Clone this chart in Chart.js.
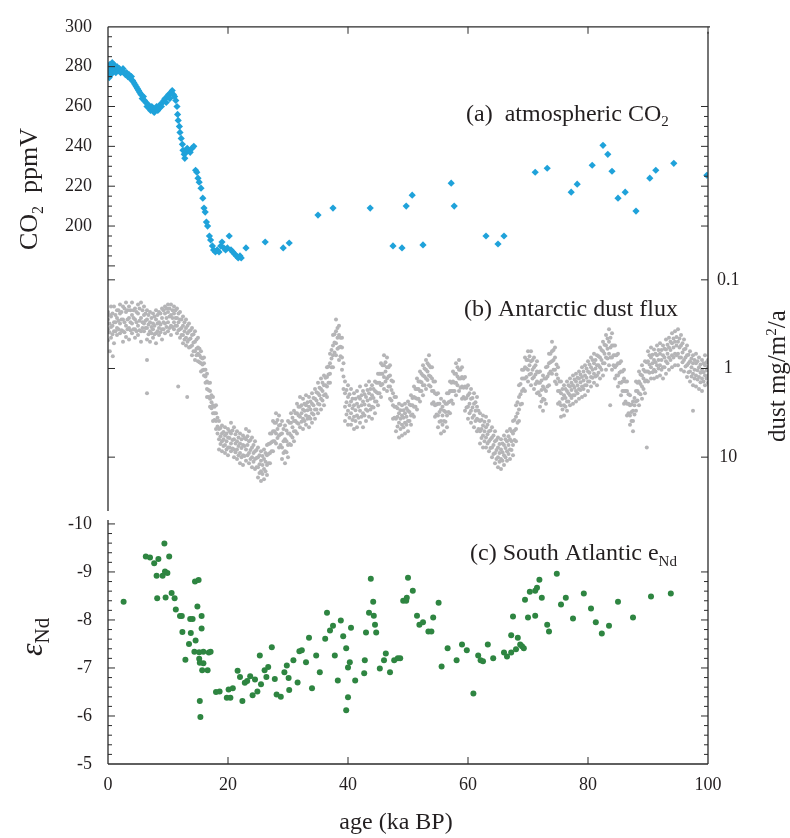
<!DOCTYPE html>
<html>
<head>
<meta charset="utf-8">
<script src="https://cdn.jsdelivr.net/npm/chart.js@4.4.0/dist/chart.umd.min.js"></script>
<style>
  html, body { margin: 0; padding: 0; background: #fff; }
  #grafico { display: block; }
</style>
</head>
<body>
<canvas id="grafico" width="790" height="838"></canvas>
<script>
// 🔵 Eixo comum: idade (ka BP)
const ageTicks = [0, 20, 40, 60, 80, 100];

// 🔵 (a) CO2 atmosférico
const co2Age = [0.0, 0.1, 0.2, 0.2, 0.3, 0.4, 0.5, 0.6, 0.7, 0.8, 0.9, 1.0, 1.2, 1.3, 1.5, 1.7, 1.9, 2.1, 2.3, 2.5,
    2.7, 2.9, 3.1, 3.3, 3.5, 3.7, 3.9, 4.1, 4.3, 4.5, 4.7, 4.9, 5.1, 5.3, 5.5, 5.7, 5.9, 6.1, 6.3, 6.5,
    6.7, 6.9, 7.1, 7.3, 7.5, 7.7, 7.9, 8.1, 8.3, 8.5, 8.7, 8.9, 9.1, 9.3, 9.5, 9.7, 9.9, 10.1, 10.3, 10.5,
    10.7, 10.9, 11.1, 11.3, 11.5, 11.6, 11.7, 11.9, 12.0, 12.2, 12.4, 12.5, 12.7, 12.8, 13.0, 13.2, 13.4, 13.7, 14.0, 14.3,
    14.6, 14.8, 15.0, 15.2, 15.5, 15.8, 16.0, 16.2, 16.4, 16.6, 16.9, 17.1, 17.4, 17.6, 17.9, 18.2, 18.5, 18.8, 19.0, 19.3,
    19.6, 19.9, 20.2, 20.5, 20.8, 21.1, 21.4, 21.7, 22.0, 22.2, 23.0, 26.2, 29.2, 30.2, 35.0, 37.5, 43.7, 47.5, 49.0, 49.7,
    50.7, 52.5, 57.2, 57.7, 63.0, 65.0, 66.0, 71.2, 73.2, 77.2, 78.2, 80.7, 82.5, 83.3, 84.0, 85.0, 86.2, 88.0, 90.3, 91.3,
    94.3, 99.8];
const co2Ppm = [277, 280, 275, 274.5, 281, 278, 276, 279, 282, 280, 278, 281, 279, 277, 280, 278, 279, 277, 278, 279,
    277, 276, 277, 275, 276, 274, 275, 273, 272, 271, 270, 269, 268, 267, 266, 264, 265, 263, 262, 260,
    261, 259, 258, 260, 259, 257, 259, 260, 258, 259, 261, 260, 262, 263, 264, 262, 265, 266, 264, 267,
    268, 266, 265, 263, 260, 256, 253, 250, 247, 244, 241, 238, 236, 234, 237, 239, 238, 237, 239, 240,
    228, 227, 224, 222, 219, 214, 209, 207, 202, 200, 195, 193, 190, 188, 187, 188, 187, 190, 192, 189,
    188, 189, 195, 188, 187, 186, 185, 184, 185, 184, 189, 192, 189, 191.5, 205.5, 209, 209, 190, 189, 210,
    215.5, 190.5, 221.5, 210, 195, 191, 195, 227, 229, 217, 221, 230.5, 240.5, 236, 227.5, 214, 217, 207.5, 224, 228,
    231.5, 225.5];
const co2Ticks = [180, 200, 220, 240, 260, 280, 300];
const co2Labels = [200, 220, 240, 260, 280, 300];

// 🔵 (b) fluxo de poeira antártica (mg/m²/a), quatro leituras por idade
const dustAge = [0, 0.5, 1, 1.5, 2, 2.5, 3, 3.5, 4, 4.5, 5, 5.5, 6, 6.5, 7, 7.5, 8, 8.5, 9, 9.5,
    10, 10.5, 11, 11.5, 12, 12.5, 13, 13.5, 14, 14.5, 15, 15.5, 16, 16.5, 17, 17.5, 18, 18.5, 19, 19.5,
    20, 20.5, 21, 21.5, 22, 22.5, 23, 23.5, 24, 24.5, 25, 25.5, 26, 26.5, 27, 27.5, 28, 28.5, 29, 29.5,
    30, 30.5, 31, 31.5, 32, 32.5, 33, 33.5, 34, 34.5, 35, 35.5, 36, 36.5, 37, 37.5, 38, 38.5, 39, 39.5,
    40, 40.5, 41, 41.5, 42, 42.5, 43, 43.5, 44, 44.5, 45, 45.5, 46, 46.5, 47, 47.5, 48, 48.5, 49, 49.5,
    50, 50.5, 51, 51.5, 52, 52.5, 53, 53.5, 54, 54.5, 55, 55.5, 56, 56.5, 57, 57.5, 58, 58.5, 59, 59.5,
    60, 60.5, 61, 61.5, 62, 62.5, 63, 63.5, 64, 64.5, 65, 65.5, 66, 66.5, 67, 67.5, 68, 68.5, 69, 69.5,
    70, 70.5, 71, 71.5, 72, 72.5, 73, 73.5, 74, 74.5, 75, 75.5, 76, 76.5, 77, 77.5, 78, 78.5, 79, 79.5,
    80, 80.5, 81, 81.5, 82, 82.5, 83, 83.5, 84, 84.5, 85, 85.5, 86, 86.5, 87, 87.5, 88, 88.5, 89, 89.5,
    90, 90.5, 91, 91.5, 92, 92.5, 93, 93.5, 94, 94.5, 95, 95.5, 96, 96.5, 97, 97.5, 98, 98.5, 99, 99.5,
    100];
const dustFlux = [
    [0.23, 0.28, 0.36, 0.48], [0.2, 0.26, 0.34, 0.45], [0.2, 0.3, 0.38, 0.52], [0.22, 0.27, 0.35, 0.42], [0.19, 0.24, 0.31, 0.4],
    [0.2, 0.28, 0.38, 0.5], [0.18, 0.23, 0.33, 0.44], [0.2, 0.27, 0.35, 0.47], [0.18, 0.25, 0.31, 0.4], [0.21, 0.28, 0.36, 0.45],
    [0.19, 0.24, 0.33, 0.42], [0.18, 0.27, 0.38, 0.5], [0.2, 0.25, 0.31, 0.38], [0.22, 0.28, 0.35, 0.47], [0.23, 0.3, 0.38, 0.5],
    [0.24, 0.31, 0.36, 0.45], [0.22, 0.28, 0.4, 0.52], [0.23, 0.3, 0.35, 0.42], [0.21, 0.27, 0.36, 0.47], [0.2, 0.24, 0.31, 0.4],
    [0.19, 0.23, 0.3, 0.38], [0.19, 0.25, 0.33, 0.42], [0.2, 0.24, 0.3, 0.36], [0.21, 0.27, 0.33, 0.4], [0.23, 0.28, 0.36, 0.45],
    [0.26, 0.33, 0.42, 0.52], [0.28, 0.35, 0.45, 0.55], [0.31, 0.38, 0.47, 0.58], [0.35, 0.42, 0.55, 0.71], [0.38, 0.5, 0.64, 0.8],
    [0.45, 0.58, 0.68, 0.83], [0.64, 0.75, 0.87, 1.08], [0.75, 0.87, 1.03, 1.2], [1.15, 1.4, 1.7, 2.1], [1.45, 1.8, 2.2, 2.7],
    [2.1, 2.6, 3.2, 3.9], [2.6, 3.2, 3.9, 4.8], [3.9, 4.8, 6.3, 8.2], [4.4, 5.4, 6.6, 8.6], [4.6, 5.7, 7.3, 9],
    [4.8, 6, 7.8, 9.5], [4.1, 5.4, 7, 8.6], [4.6, 6.3, 8.2, 10], [5.1, 6.6, 8.2, 10.5], [5.4, 7, 9, 11.7],
    [5.7, 7.3, 9.5, 12.3], [4.8, 6.3, 8.2, 11], [5.1, 6.6, 9, 11.7], [6, 7.8, 10, 13], [6.6, 8.6, 10.5, 13.6],
    [7.8, 10, 13, 17], [8.6, 11, 14.4, 18.6], [8.2, 10.5, 13.6, 17.8], [7.3, 9.5, 12.3, 15.9], [5.4, 7, 9, 11.7],
    [3.9, 5.1, 6.6, 8.6], [3.2, 4.1, 5.4, 7], [3.4, 4.4, 5.7, 7.8], [3.9, 5.4, 7.8, 10.5], [4.4, 6.3, 8.6, 11.7],
    [3.9, 5.4, 7.3, 10], [3.2, 4.1, 5.7, 7.3], [3, 3.9, 5.1, 6.6], [2.5, 3.2, 4.1, 5.4], [2.1, 2.7, 3.5, 4.6],
    [2.2, 2.9, 3.7, 4.8], [2, 2.6, 3.4, 4.3], [2.1, 2.7, 3.5, 4.6], [1.9, 2.5, 3.2, 4.1], [1.7, 2.2, 2.9, 3.7],
    [1.45, 1.9, 2.5, 3.2], [1.3, 1.7, 2.2, 2.9], [1.2, 1.55, 2, 2.6], [0.97, 1.25, 1.6, 2.1], [0.68, 0.87, 1.15, 1.45],
    [0.42, 0.55, 0.71, 0.97], [0.28, 0.38, 0.52, 0.71], [0.33, 0.42, 0.58, 0.8], [0.45, 0.58, 0.75, 1.03], [1.4, 1.9, 2.7, 3.9],
    [1.55, 2.1, 3, 4.3], [1.7, 2.35, 3.2, 4.3], [1.9, 2.6, 3.5, 4.8], [1.8, 2.5, 3.4, 4.6], [1.6, 2.2, 3, 4.1],
    [1.8, 2.35, 3.2, 4.6], [1.55, 2.1, 2.9, 3.9], [1.4, 1.9, 2.6, 3.5], [1.55, 2, 2.7, 3.7], [1.4, 1.8, 2.35, 3.2],
    [1.15, 1.45, 1.9, 2.6], [0.87, 1.15, 1.55, 2.1], [0.71, 0.92, 1.25, 1.7], [0.75, 0.97, 1.3, 1.8], [0.92, 1.2, 1.6, 2.2],
    [1.4, 1.9, 2.6, 3.7], [2.1, 2.7, 3.7, 5.1], [2.5, 3.2, 4.1, 6], [2.6, 3.4, 4.3, 5.7], [2.5, 3.2, 4.1, 5.4],
    [2.35, 3, 3.9, 5.1], [2, 2.6, 3.4, 4.3], [1.6, 2.1, 2.7, 3.5], [1.3, 1.7, 2.2, 2.9], [1.08, 1.4, 1.8, 2.35],
    [0.92, 1.2, 1.55, 2], [0.8, 1.03, 1.3, 1.7], [0.71, 0.92, 1.2, 1.55], [0.97, 1.3, 1.8, 2.5], [1.4, 1.9, 2.6, 3.5],
    [1.9, 2.5, 3.4, 4.6], [2.2, 2.9, 3.9, 5.4], [2.35, 3, 3.9, 5.1], [1.9, 2.5, 3.4, 4.6], [1.4, 1.8, 2.35, 3.2],
    [1.08, 1.4, 1.8, 2.5], [0.87, 1.15, 1.45, 2], [0.8, 1.03, 1.3, 1.8], [0.97, 1.25, 1.6, 2.2], [1.25, 1.6, 2.2, 3],
    [1.55, 2, 2.7, 3.7], [1.7, 2.2, 3, 4.1], [1.9, 2.5, 3.4, 4.6], [2.1, 2.7, 3.7, 5.1], [3.2, 3.9, 5.1, 7],
    [3.4, 4.4, 5.7, 7.8], [3.5, 4.6, 6, 7.8], [3.9, 5.1, 6.6, 8.6], [4.6, 6, 7.8, 10], [5.1, 6.6, 9, 11.7],
    [6, 7.8, 10, 13], [6.3, 8.2, 10.5, 13.6], [5.7, 7.3, 9.5, 12.3], [5.1, 6.6, 8.6, 11], [4.8, 6.3, 8.2, 10.5],
    [3.9, 5.4, 7.3, 9.5], [2.6, 3.5, 4.8, 6.6], [1.55, 2.1, 2.9, 3.9], [1.03, 1.3, 1.8, 2.5], [0.75, 0.97, 1.3, 1.8],
    [0.64, 0.8, 1.03, 1.4], [0.64, 0.83, 1.15, 1.55], [0.75, 0.97, 1.25, 1.7], [0.83, 1.08, 1.4, 1.9], [1.08, 1.45, 2, 2.7],
    [1.2, 1.6, 2.2, 3], [0.97, 1.3, 1.8, 2.5], [0.68, 0.87, 1.15, 1.55], [0.5, 0.64, 0.83, 1.15], [0.58, 0.75, 1.03, 1.4],
    [0.97, 1.3, 1.8, 2.5], [1.4, 1.9, 2.6, 3.5], [1.55, 2, 2.6, 3.4], [1.4, 1.8, 2.35, 3], [1.3, 1.6, 2, 2.6],
    [1.2, 1.55, 2, 2.5], [1.15, 1.4, 1.8, 2.35], [1.08, 1.3, 1.7, 2.2], [0.97, 1.25, 1.6, 2.1], [0.92, 1.2, 1.55, 2],
    [0.83, 1.08, 1.4, 1.8], [0.75, 0.97, 1.25, 1.6], [0.68, 0.87, 1.15, 1.45], [0.71, 0.92, 1.2, 1.55], [0.58, 0.75, 0.97, 1.3],
    [0.5, 0.64, 0.87, 1.2], [0.42, 0.55, 0.75, 1.03], [0.36, 0.5, 0.68, 0.92], [0.4, 0.55, 0.75, 1.03], [0.55, 0.71, 0.97, 1.3],
    [0.68, 0.87, 1.2, 1.6], [0.83, 1.08, 1.45, 2], [1.03, 1.3, 1.8, 2.5], [1.4, 1.8, 2.5, 3.4], [2, 2.6, 3.4, 4.3],
    [2.35, 3, 3.9, 5.1], [1.4, 1.8, 2.35, 3], [1.08, 1.4, 1.9, 2.6], [0.92, 1.2, 1.6, 2.2], [0.83, 1.08, 1.4, 1.9],
    [0.64, 0.83, 1.08, 1.4], [0.58, 0.75, 0.97, 1.3], [0.61, 0.8, 1.03, 1.3], [0.55, 0.71, 0.92, 1.25], [0.52, 0.68, 0.92, 1.2],
    [0.55, 0.71, 0.97, 1.3], [0.47, 0.61, 0.83, 1.15], [0.45, 0.58, 0.75, 1.03], [0.4, 0.52, 0.71, 0.97], [0.38, 0.5, 0.68, 0.92],
    [0.36, 0.5, 0.68, 0.92], [0.42, 0.55, 0.75, 1.03], [0.47, 0.61, 0.8, 1.08], [0.55, 0.71, 0.92, 1.25], [0.64, 0.83, 1.08, 1.4],
    [0.71, 0.87, 1.15, 1.55], [0.68, 0.87, 1.2, 1.6], [0.75, 0.97, 1.25, 1.7], [0.8, 1.03, 1.3, 1.8], [0.71, 0.92, 1.2, 1.55],
    [0.8, 0.97, 1.2, 1.45]
];
// leituras intermediárias (três por idade), entre as idades acima
const dustAgeMeio = [0.25, 0.75, 1.25, 1.75, 2.25, 2.75, 3.25, 3.75, 4.25, 4.75, 5.25, 5.75, 6.25, 6.75, 7.25, 7.75, 8.25, 8.75, 9.25, 9.75,
    10.25, 10.75, 11.25, 11.75, 12.25, 12.75, 13.25, 13.75, 14.25, 14.75, 15.25, 15.75, 16.25, 16.75, 17.25, 17.75, 18.25, 18.75, 19.25, 19.75,
    20.25, 20.75, 21.25, 21.75, 22.25, 22.75, 23.25, 23.75, 24.25, 24.75, 25.25, 25.75, 26.25, 26.75, 27.25, 27.75, 28.25, 28.75, 29.25, 29.75,
    30.25, 30.75, 31.25, 31.75, 32.25, 32.75, 33.25, 33.75, 34.25, 34.75, 35.25, 35.75, 36.25, 36.75, 37.25, 37.75, 38.25, 38.75, 39.25, 39.75,
    40.25, 40.75, 41.25, 41.75, 42.25, 42.75, 43.25, 43.75, 44.25, 44.75, 45.25, 45.75, 46.25, 46.75, 47.25, 47.75, 48.25, 48.75, 49.25, 49.75,
    50.25, 50.75, 51.25, 51.75, 52.25, 52.75, 53.25, 53.75, 54.25, 54.75, 55.25, 55.75, 56.25, 56.75, 57.25, 57.75, 58.25, 58.75, 59.25, 59.75,
    60.25, 60.75, 61.25, 61.75, 62.25, 62.75, 63.25, 63.75, 64.25, 64.75, 65.25, 65.75, 66.25, 66.75, 67.25, 67.75, 68.25, 68.75, 69.25, 69.75,
    70.25, 70.75, 71.25, 71.75, 72.25, 72.75, 73.25, 73.75, 74.25, 74.75, 75.25, 75.75, 76.25, 76.75, 77.25, 77.75, 78.25, 78.75, 79.25, 79.75,
    80.25, 80.75, 81.25, 81.75, 82.25, 82.75, 83.25, 83.75, 84.25, 84.75, 85.25, 85.75, 86.25, 86.75, 87.25, 87.75, 88.25, 88.75, 89.25, 89.75,
    90.25, 90.75, 91.25, 91.75, 92.25, 92.75, 93.25, 93.75, 94.25, 94.75, 95.25, 95.75, 96.25, 96.75, 97.25, 97.75, 98.25, 98.75, 99.25, 99.75];
const dustFluxMeio = [
    [0.25, 0.31, 0.39], [0.24, 0.33, 0.41], [0.25, 0.3, 0.38], [0.22, 0.29, 0.36], [0.23, 0.28, 0.37],
    [0.21, 0.3, 0.39], [0.22, 0.28, 0.36], [0.22, 0.3, 0.37], [0.22, 0.27, 0.36], [0.23, 0.3, 0.38],
    [0.21, 0.29, 0.37], [0.22, 0.3, 0.35], [0.24, 0.29, 0.35], [0.25, 0.32, 0.41], [0.27, 0.34, 0.4],
    [0.26, 0.33, 0.41], [0.25, 0.31, 0.38], [0.24, 0.32, 0.39], [0.22, 0.3, 0.36], [0.21, 0.27, 0.34],
    [0.21, 0.26, 0.35], [0.22, 0.27, 0.34], [0.22, 0.27, 0.33], [0.24, 0.3, 0.37], [0.28, 0.35, 0.42],
    [0.3, 0.38, 0.47], [0.33, 0.4, 0.5], [0.37, 0.46, 0.57], [0.41, 0.51, 0.64], [0.47, 0.6, 0.71],
    [0.6, 0.71, 0.85], [0.77, 0.9, 1.05], [1.03, 1.23, 1.45], [1.45, 1.75, 2.1], [2, 2.4, 2.8],
    [2.7, 3.2, 3.8], [3.6, 4.5, 5.4], [4.7, 5.8, 7.1], [5.2, 6.3, 7.5], [5.4, 6.6, 8.2],
    [5.1, 6.1, 7.8], [5, 6.4, 8], [5.5, 7, 8.8], [6, 7.5, 9.5], [6.3, 7.9, 10],
    [6.1, 7.5, 9.7], [5.8, 7.3, 9.5], [6.4, 8.3, 10.5], [7.3, 9, 11.3], [8.3, 10.2, 13],
    [9.5, 12, 15.1], [9.7, 12.3, 15.5], [9, 11.3, 14.4], [7.1, 9.2, 11.7], [5.4, 6.8, 8.6],
    [4.1, 5.1, 6.6], [3.8, 4.8, 6.1], [4.3, 5.5, 7.3], [4.8, 6.6, 9], [5, 6.6, 8.8],
    [4.1, 5.4, 7.1], [3.6, 4.6, 6], [3.2, 3.9, 5.1], [2.7, 3.4, 4.2], [2.6, 3.2, 4],
    [2.5, 3, 3.9], [2.4, 2.95, 3.7], [2.35, 2.9, 3.7], [2.15, 2.6, 3.3], [1.85, 2.3, 2.9],
    [1.65, 2, 2.55], [1.45, 1.8, 2.3], [1.27, 1.55, 1.95], [0.95, 1.17, 1.45], [0.62, 0.77, 0.97],
    [0.41, 0.51, 0.66], [0.35, 0.45, 0.6], [0.45, 0.57, 0.73], [0.87, 1.23, 1.7], [1.75, 2.4, 3.3],
    [1.95, 2.6, 3.6], [2.2, 2.8, 3.8], [2.2, 2.95, 3.9], [2.1, 2.7, 3.6], [2, 2.6, 3.5],
    [1.95, 2.55, 3.4], [1.75, 2.3, 3], [1.7, 2.2, 2.9], [1.7, 2.15, 2.75], [1.45, 1.85, 2.35],
    [1.15, 1.45, 1.9], [0.92, 1.15, 1.5], [0.85, 1.08, 1.4], [0.97, 1.23, 1.6], [1.37, 1.75, 2.3],
    [2.1, 2.7, 3.6], [2.8, 3.5, 4.5], [2.95, 3.7, 4.8], [2.95, 3.6, 4.6], [2.8, 3.5, 4.3],
    [2.55, 3.1, 3.9], [2.15, 2.6, 3.3], [1.7, 2.15, 2.7], [1.4, 1.7, 2.2], [1.15, 1.43, 1.8],
    [1, 1.23, 1.55], [0.87, 1.08, 1.35], [0.97, 1.23, 1.6], [1.4, 1.8, 2.4], [1.95, 2.55, 3.3],
    [2.5, 3.1, 4], [2.7, 3.4, 4.3], [2.5, 3.1, 4], [1.9, 2.4, 3.1], [1.45, 1.8, 2.3],
    [1.15, 1.45, 1.8], [0.97, 1.23, 1.55], [1.03, 1.3, 1.65], [1.3, 1.65, 2.1], [1.65, 2.15, 2.75],
    [1.9, 2.5, 3.2], [2.15, 2.75, 3.6], [2.4, 3, 3.9], [3, 3.8, 4.8], [3.8, 4.8, 6.1],
    [4, 5.1, 6.6], [4.3, 5.5, 7], [5, 6.3, 7.9], [5.7, 7.3, 9.2], [6.4, 8.3, 10.5],
    [7.1, 9, 11.3], [7, 8.8, 11], [6.3, 7.9, 10], [5.8, 7.3, 9.2], [5.1, 6.6, 8.3],
    [3.8, 5, 6.4], [2.4, 3.2, 4.1], [1.5, 1.95, 2.55], [1.03, 1.3, 1.7], [0.8, 1, 1.25],
    [0.73, 0.92, 1.17], [0.8, 1.03, 1.3], [0.92, 1.17, 1.5], [1.1, 1.45, 1.85], [1.37, 1.75, 2.35],
    [1.3, 1.7, 2.25], [0.95, 1.23, 1.6], [0.68, 0.85, 1.08], [0.62, 0.8, 1.03], [0.9, 1.17, 1.5],
    [1.4, 1.8, 2.4], [1.7, 2.2, 2.9], [1.7, 2.15, 2.7], [1.55, 1.9, 2.35], [1.45, 1.75, 2.15],
    [1.33, 1.65, 2], [1.27, 1.55, 1.9], [1.17, 1.43, 1.75], [1.08, 1.37, 1.7], [1, 1.27, 1.55],
    [0.9, 1.12, 1.4], [0.8, 1.03, 1.27], [0.8, 1, 1.23], [0.73, 0.92, 1.12], [0.62, 0.8, 1.03],
    [0.54, 0.68, 0.87], [0.46, 0.6, 0.77], [0.45, 0.58, 0.75], [0.55, 0.71, 0.92], [0.71, 0.92, 1.2],
    [0.87, 1.12, 1.45], [1.08, 1.4, 1.8], [1.4, 1.8, 2.35], [1.95, 2.5, 3.2], [2.55, 3.1, 3.9],
    [2.15, 2.6, 3.3], [1.45, 1.8, 2.3], [1.17, 1.5, 1.95], [1.03, 1.3, 1.7], [0.85, 1.08, 1.37],
    [0.71, 0.9, 1.12], [0.7, 0.87, 1.1], [0.68, 0.85, 1.08], [0.62, 0.8, 1], [0.62, 0.8, 1.03],
    [0.6, 0.75, 0.97], [0.54, 0.68, 0.87], [0.5, 0.62, 0.8], [0.46, 0.58, 0.75], [0.44, 0.55, 0.71],
    [0.46, 0.58, 0.75], [0.52, 0.66, 0.85], [0.6, 0.75, 0.95], [0.7, 0.87, 1.1], [0.77, 0.97, 1.23],
    [0.8, 1.03, 1.3], [0.83, 1.05, 1.33], [0.9, 1.12, 1.43], [0.87, 1.1, 1.4], [0.85, 1.05, 1.3]
];
// leituras isoladas fora da nuvem principal
const dustExtraAge = [0.3, 0.8, 6.5, 6.5, 11.7, 13.2, 83.7, 89.8, 97.5];
const dustExtraFlux = [0.64, 0.73, 0.8, 1.9, 1.6, 2.1, 2.6, 7.8, 3.0];
const dustTicks = [0.1, 1, 10];

// 🔵 (c) eNd do Atlântico Sul
const ndAge = [2.6, 6.3, 7.0, 7.7, 8.4, 8.1, 9.1, 9.4, 9.5, 9.9, 10.2, 8.2, 9.6, 10.6, 11.1, 11.3, 12.0, 12.3, 12.4, 12.9,
    13.5, 13.7, 14.1, 13.8, 14.4, 14.6, 14.5, 15.1, 14.9, 15.2, 15.2, 15.3, 15.6, 15.6, 15.9, 15.7, 15.9, 16.6, 15.3, 15.4,
    16.8, 17.1, 18.0, 18.6, 19.8, 20.4, 20.1, 20.8, 21.6, 22.0, 22.4, 22.8, 23.2, 23.7, 24.1, 24.5, 24.9, 25.3, 25.5, 26.1,
    26.4, 26.7, 27.3, 27.8, 28.1, 28.8, 29.4, 29.8, 30.1, 30.2, 30.9, 31.6, 31.9, 32.3, 33.0, 33.5, 34.0, 34.7, 35.3, 36.2,
    36.5, 37.0, 37.5, 37.8, 38.3, 38.8, 39.2, 39.7, 40.0, 40.3, 40.5, 39.7, 40.0, 41.2, 42.7, 42.8, 43.0, 43.5, 43.8, 44.2,
    44.3, 44.5, 44.7, 45.3, 46.0, 46.3, 47.0, 47.7, 48.3, 48.7, 49.2, 49.7, 49.8, 50.0, 50.8, 51.5, 51.9, 52.5, 53.4, 53.9,
    54.2, 55.1, 55.6, 56.6, 58.1, 59.0, 59.8, 60.9, 61.7, 62.1, 62.5, 63.3, 64.2, 66.0, 66.5, 67.2, 67.2, 67.5, 68.0, 68.3,
    68.7, 69.0, 69.3, 69.5, 70.0, 70.3, 71.2, 71.2, 71.5, 71.9, 72.3, 73.2, 73.5, 74.8, 75.5, 76.3, 77.5, 79.3, 80.5, 81.3,
    82.3, 83.5, 85.0, 87.5, 90.5, 93.8];
const ndValue = [-8.38, -9.32, -9.30, -9.18, -9.27, -8.92, -8.92, -9.59, -9.01, -8.98, -9.32, -8.45, -8.47, -8.56, -8.45, -8.22, -8.08, -8.08, -7.75, -7.17,
    -7.50, -8.02, -8.02, -7.73, -7.34, -7.57, -8.80, -8.83, -8.28, -7.33, -7.19, -7.11, -8.08, -7.82, -7.34, -6.95, -7.10, -6.95, -6.31, -5.98,
    -7.32, -7.34, -6.50, -6.51, -6.38, -6.38, -6.55, -6.58, -6.94, -6.81, -6.31, -6.69, -6.73, -6.83, -6.43, -6.76, -6.51, -7.26, -6.66, -6.95,
    -6.81, -7.02, -7.43, -6.77, -6.45, -6.40, -6.91, -7.05, -6.79, -6.54, -7.16, -6.70, -7.35, -7.37, -7.12, -7.63, -6.58, -7.26, -6.91, -7.61,
    -8.15, -7.78, -7.88, -7.26, -6.74, -7.99, -7.66, -7.41, -7.01, -7.12, -7.84, -6.12, -6.39, -6.74, -6.89, -7.16, -7.74, -8.15, -8.86, -8.38,
    -8.09, -7.90, -7.74, -6.99, -7.16, -7.30, -6.91, -7.16, -7.20, -7.20, -8.40, -8.40, -8.46, -8.88, -8.61, -8.09, -7.90, -7.95, -7.76, -7.76,
    -8.05, -8.36, -7.03, -7.41, -7.16, -7.49, -7.37, -6.47, -7.26, -7.16, -7.14, -7.49, -7.20, -7.32, -7.24, -7.32, -7.68, -8.07, -7.39, -7.63,
    -7.49, -7.45, -7.41, -8.42, -8.05, -8.59, -8.09, -8.61, -8.67, -8.84, -8.46, -7.90, -7.76, -8.96, -8.32, -8.46, -8.03, -8.55, -8.24, -7.95,
    -7.72, -7.88, -8.38, -8.05, -8.49, -8.55];
const ndTicks = [-10, -9, -8, -7, -6, -5];

// 🔵 Cores e fontes
const corEixo = "#2b2b2b";
const corTexto = "#231f20";
const fonteSerif = '"Liberation Serif", "Times New Roman", serif';
const fonteTicks = { family: fonteSerif, size: 18 };

// 🔵 Montar pontos
const pontosCO2 = co2Age.map((idade, i) => ({ x: idade, y: co2Ppm[i] }));
const pontosPoeira = [];
dustAge.forEach((idade, i) => {
    dustFlux[i].forEach(v => pontosPoeira.push({ x: idade, y: v }));
});
dustAgeMeio.forEach((idade, i) => {
    dustFluxMeio[i].forEach(v => pontosPoeira.push({ x: idade, y: v }));
});
dustExtraAge.forEach((idade, i) => pontosPoeira.push({ x: idade, y: dustExtraFlux[i] }));
const pontosNd = ndAge.map((idade, i) => ({ x: idade, y: ndValue[i] }));

// ticks menores: CO2 a cada 5 ppm, eNd a cada 0.2
function subdividir(majores, passo) {
    const lista = [];
    for (let i = 0; i < majores.length - 1; i++) {
        const n = Math.round((majores[i + 1] - majores[i]) / passo);
        for (let k = 0; k < n; k++) lista.push(Math.round((majores[i] + k * passo) * 100) / 100);
    }
    lista.push(majores[majores.length - 1]);
    return lista;
}
const ehInteiro = v => Math.abs(v - Math.round(v)) < 1e-6;

// 🔵 Moldura, quebras e marcas internas dos eixos
function marcas(ctx, scale, valores, x, sentido, longa) {
    valores.forEach(v => {
        const y = scale.getPixelForValue(v);
        const len = longa(v) ? 7 : 4;
        ctx.moveTo(x, y);
        ctx.lineTo(x + sentido * len, y);
    });
}

const molduraEixos = {
    id: "molduraEixos",
    afterDatasetsDraw(chart) {
        const { ctx, chartArea: a, scales } = chart;
        const esq = a.left, dir = a.right;
        ctx.save();
        ctx.strokeStyle = corEixo;
        ctx.lineWidth = 1.3;
        ctx.beginPath();
        ctx.moveTo(esq, a.top); ctx.lineTo(dir + 2, a.top);
        ctx.moveTo(esq, a.bottom); ctx.lineTo(dir, a.bottom);
        // eixo esquerdo com quebra antes do painel (c)
        ctx.moveTo(esq, a.top); ctx.lineTo(esq, scales.yNd.getPixelForValue(-10.27));
        ctx.moveTo(esq, scales.yNd.getPixelForValue(-10.08)); ctx.lineTo(esq, a.bottom);
        ctx.moveTo(dir, a.top + 5); ctx.lineTo(dir, a.bottom);
        ctx.stroke();

        ctx.lineWidth = 1;
        ctx.beginPath();
        // idade: marcas em cima e embaixo
        scales.x.ticks.forEach(t => {
            if (t.value === 0) return;
            const x = scales.x.getPixelForValue(t.value);
            ctx.moveTo(x, a.top); ctx.lineTo(x, a.top + 7);
            if (t.value < 100) { ctx.moveTo(x, a.bottom); ctx.lineTo(x, a.bottom - 7); }
        });
        const co2Vals = scales.yCO2.ticks.map(t => t.value);
        marcas(ctx, scales.yCO2, co2Vals.filter(v => v < 300), esq, 1, v => v % 20 === 0);
        marcas(ctx, scales.yCO2, co2Vals.filter(v => v >= 200 && v <= 260), dir, -1, v => v % 20 === 0);
        const dustVals = scales.yDust.ticks.map(t => t.value);
        marcas(ctx, scales.yDust, dustVals, esq, 1, () => true);
        marcas(ctx, scales.yDust, dustVals, dir, -1, () => true);
        const ndVals = scales.yNd.ticks.map(t => t.value);
        marcas(ctx, scales.yNd, ndVals.filter(v => v < -5), esq, 1, ehInteiro);
        marcas(ctx, scales.yNd, ndVals.filter(v => v >= -9 && v < -5), dir, -1, ehInteiro);
        ctx.stroke();
        ctx.restore();
    }
};

// 🔵 Títulos dos eixos e rótulos dos painéis
function escrever(ctx, partes, x, y, girar) {
    ctx.save();
    ctx.translate(x, y);
    if (girar) ctx.rotate(-Math.PI / 2);
    ctx.fillStyle = corTexto;
    ctx.textBaseline = "alphabetic";
    let pos = 0;
    partes.forEach(p => {
        ctx.font = p[1];
        ctx.fillText(p[0], pos, p[2] || 0);
        pos += ctx.measureText(p[0]).width;
    });
    ctx.restore();
}

const titulos = {
    id: "titulos",
    afterDraw(chart) {
        const ctx = chart.ctx;
        const f = px => px + "px " + fonteSerif;
        escrever(ctx, [["CO", f(26)], ["2", f(16), 6], ["  ppmV", f(26)]], 37, 250, true);
        escrever(ctx, [["\u03b5", "italic " + f(32)], ["Nd", f(21), 7]], 42, 656, true);
        escrever(ctx, [["dust mg/m", f(25)], ["2", f(15), -9], ["/a", f(25)]], 785, 442, true);
        escrever(ctx, [["(a)  atmospheric CO", f(24)], ["2", f(15), 5]], 466, 121);
        escrever(ctx, [["(b) Antarctic dust flux", f(24)]], 464, 316);
        escrever(ctx, [["(c) South Atlantic e", f(24)], ["Nd", f(15), 6]], 470, 560);
        ctx.save();
        ctx.font = f(24);
        ctx.fillStyle = corTexto;
        ctx.textAlign = "center";
        ctx.fillText("age (ka BP)", 396, 829);
        ctx.restore();
    }
};

// 🔵 Criar gráfico
const ctx = document.getElementById("grafico").getContext("2d");
const eixoOculto = { display: false, drawTicks: false };

// eixos da esquerda empilhados: CO2 em cima (24–390 px), eNd embaixo (390–764 px)
new Chart(ctx, {
    type: "scatter",
    data: {
        datasets: [
            {
                label: "dust",
                data: pontosPoeira,
                yAxisID: "yDust",
                pointRadius: 2,
                pointBorderWidth: 0,
                backgroundColor: "#b5b5b7"
            },
            {
                label: "CO2",
                data: pontosCO2,
                yAxisID: "yCO2",
                pointStyle: "rectRot",
                pointRadius: 3.6,
                pointBorderWidth: 0,
                backgroundColor: "#1fa2da"
            },
            {
                label: "eNd",
                data: pontosNd,
                yAxisID: "yNd",
                pointRadius: 3,
                pointBorderWidth: 0,
                backgroundColor: "#2e8541"
            }
        ]
    },
    options: {
        responsive: false,
        animation: false,
        layout: { padding: { left: 0, right: 0, top: 24, bottom: 0 } },
        plugins: { legend: { display: false }, tooltip: { enabled: false } },
        scales: {
            x: {
                type: "linear", position: "bottom", min: 0, max: 100, bounds: "data",
                afterBuildTicks: s => { s.ticks = ageTicks.map(v => ({ value: v })); },
                afterFit: s => { s.height = 74; },
                grid: eixoOculto, border: { display: false },
                ticks: { font: fonteTicks, color: corTexto, padding: 10, autoSkip: false, maxRotation: 0 }
            },
            yCO2: {
                type: "linear", position: "left", stack: "esquerda", stackWeight: 366, weight: 2,
                min: 117, max: 300, bounds: "data",
                afterBuildTicks: s => { s.ticks = subdividir(co2Ticks, 5).map(v => ({ value: v })); },
                afterFit: s => { s.width = 108; },
                grid: eixoOculto, border: { display: false },
                ticks: {
                    font: fonteTicks, color: corTexto, padding: 16, autoSkip: false,
                    callback: v => co2Labels.includes(v) ? String(v) : ""
                }
            },
            yNd: {
                type: "linear", position: "left", stack: "esquerda", stackWeight: 374, weight: 1,
                reverse: true, min: -12.76, max: -5, bounds: "data",
                afterBuildTicks: s => { s.ticks = subdividir(ndTicks, 0.2).map(v => ({ value: v })); },
                afterFit: s => { s.width = 108; },
                grid: eixoOculto, border: { display: false },
                ticks: {
                    font: fonteTicks, color: corTexto, padding: 16, autoSkip: false,
                    callback: v => ehInteiro(v) ? String(Math.round(v)) : ""
                }
            },
            yDust: {
                type: "logarithmic", position: "right", reverse: true, min: 1.4e-4, max: 2.89e4, bounds: "data",
                afterBuildTicks: s => { s.ticks = dustTicks.map(v => ({ value: v })); },
                afterFit: s => { s.width = 82; },
                grid: eixoOculto, border: { display: false },
                ticks: {
                    font: fonteTicks, color: corTexto, padding: 9, autoSkip: false, crossAlign: "center",
                    callback: v => String(v)
                }
            }
        }
    },
    plugins: [molduraEixos, titulos]
});
</script>
</body>
</html>
